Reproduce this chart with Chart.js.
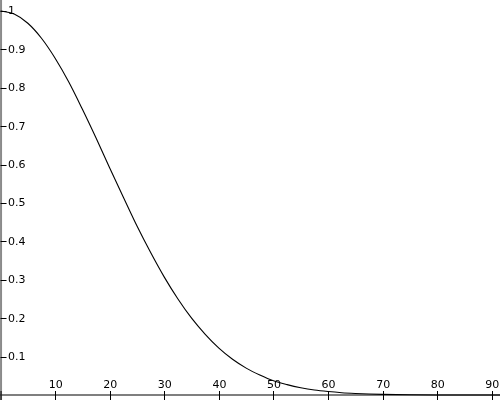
<!DOCTYPE html>
<html>
<head>
<meta charset="utf-8">
<script src="https://cdn.jsdelivr.net/npm/chart.js@4/dist/chart.umd.min.js"></script>
<style>
  html, body { margin: 0; padding: 0; background: #fff; }
  #wrap { width: 500px; height: 400px; }
</style>
</head>
<body>
<div id="wrap"><canvas id="plot"></canvas></div>
<script>
// values, every 2.5 on x
var xs = [0, 2.5, 5, 7.5, 10, 12.5, 15, 17.5, 20, 22.5, 25, 27.5, 30, 32.5, 35, 37.5, 40, 42.5, 45, 47.5, 50, 52.5, 55, 57.5, 60, 62.5, 65, 67.5, 70, 75, 80, 85, 90, 91.5];
var ys = [1, 0.992, 0.968, 0.929, 0.877, 0.815, 0.744, 0.669, 0.591, 0.515, 0.44, 0.371, 0.307, 0.25, 0.2, 0.158, 0.122, 0.093, 0.07, 0.052, 0.037, 0.027, 0.019, 0.013, 0.009, 0.006, 0.004, 0.0025, 0.0016, 0.0006, 0.0002, 0.0001, 0, 0];

// tick labels on the crossing axes
var xTicks = [10, 20, 30, 40, 50, 60, 70, 80, 90];
var yTicks = [0.1, 0.2, 0.3, 0.4, 0.5, 0.6, 0.7, 0.8, 0.9, 1];

var points = [];
for (var i = 0; i < xs.length; i++) {
  points.push({x: xs[i], y: ys[i]});
}

// draws the axes through the origin, with ticks that cross the lines
var crossAxes = {
  id: 'crossAxes',
  beforeDatasetsDraw: function(chart) {
    var ctx = chart.ctx;
    var sx = chart.scales.x;
    var sy = chart.scales.y;
    var x0 = sx.getPixelForValue(0);
    var y0 = sy.getPixelForValue(0);
    var area = chart.chartArea;

    ctx.save();
    // y axis
    ctx.strokeStyle = '#8a8a8a';
    ctx.lineWidth = 2;
    ctx.beginPath();
    ctx.moveTo(x0 + 0.5, area.top);
    ctx.lineTo(x0 + 0.5, area.bottom);
    ctx.stroke();

    // x axis
    ctx.strokeStyle = '#555';
    ctx.lineWidth = 1.5;
    ctx.beginPath();
    ctx.moveTo(area.left, y0);
    ctx.lineTo(area.right, y0);
    ctx.stroke();

    ctx.font = '11px "DejaVu Sans"';
    ctx.fillStyle = '#000';
    ctx.strokeStyle = '#000';
    ctx.lineWidth = 1;

    // x ticks + labels
    ctx.textAlign = 'center';
    ctx.textBaseline = 'alphabetic';
    ctx.beginPath();
    ctx.moveTo(x0 + 0.5, y0 - 4);
    ctx.lineTo(x0 + 0.5, y0 + 5);
    xTicks.forEach(function(t) {
      var px = Math.round(sx.getPixelForValue(t)) + 0.5;
      ctx.moveTo(px, y0 - 4);
      ctx.lineTo(px, y0 + 5);
    });
    ctx.stroke();
    xTicks.forEach(function(t) {
      ctx.fillText(String(t), sx.getPixelForValue(t) + 0.5, y0 - 7);
    });

    // y ticks + labels
    ctx.textAlign = 'left';
    ctx.textBaseline = 'middle';
    ctx.beginPath();
    yTicks.forEach(function(t) {
      var py = Math.round(sy.getPixelForValue(t)) + 0.5;
      ctx.moveTo(x0, py);
      ctx.lineTo(x0 + 6, py);
    });
    ctx.stroke();
    yTicks.forEach(function(t) {
      ctx.fillText(String(t), x0 + 7.5, sy.getPixelForValue(t) + 0.5);
    });
    ctx.restore();
  }
};

new Chart(document.getElementById('plot'), {
  type: 'line',
  data: {
    datasets: [{
      data: points,
      borderColor: '#000',
      borderWidth: 1.1,
      pointRadius: 0,
      fill: false,
      cubicInterpolationMode: 'monotone'
    }]
  },
  options: {
    responsive: true,
    maintainAspectRatio: false,
    animation: false,
    layout: { padding: 0 },
    plugins: { legend: { display: false }, tooltip: { enabled: false } },
    scales: {
      x: { type: 'linear', display: false, min: -0.1, max: 91.5 },
      y: { type: 'linear', display: false, min: -0.013, max: 1.0286 }
    }
  },
  plugins: [crossAxes]
});
</script>
</body>
</html>
